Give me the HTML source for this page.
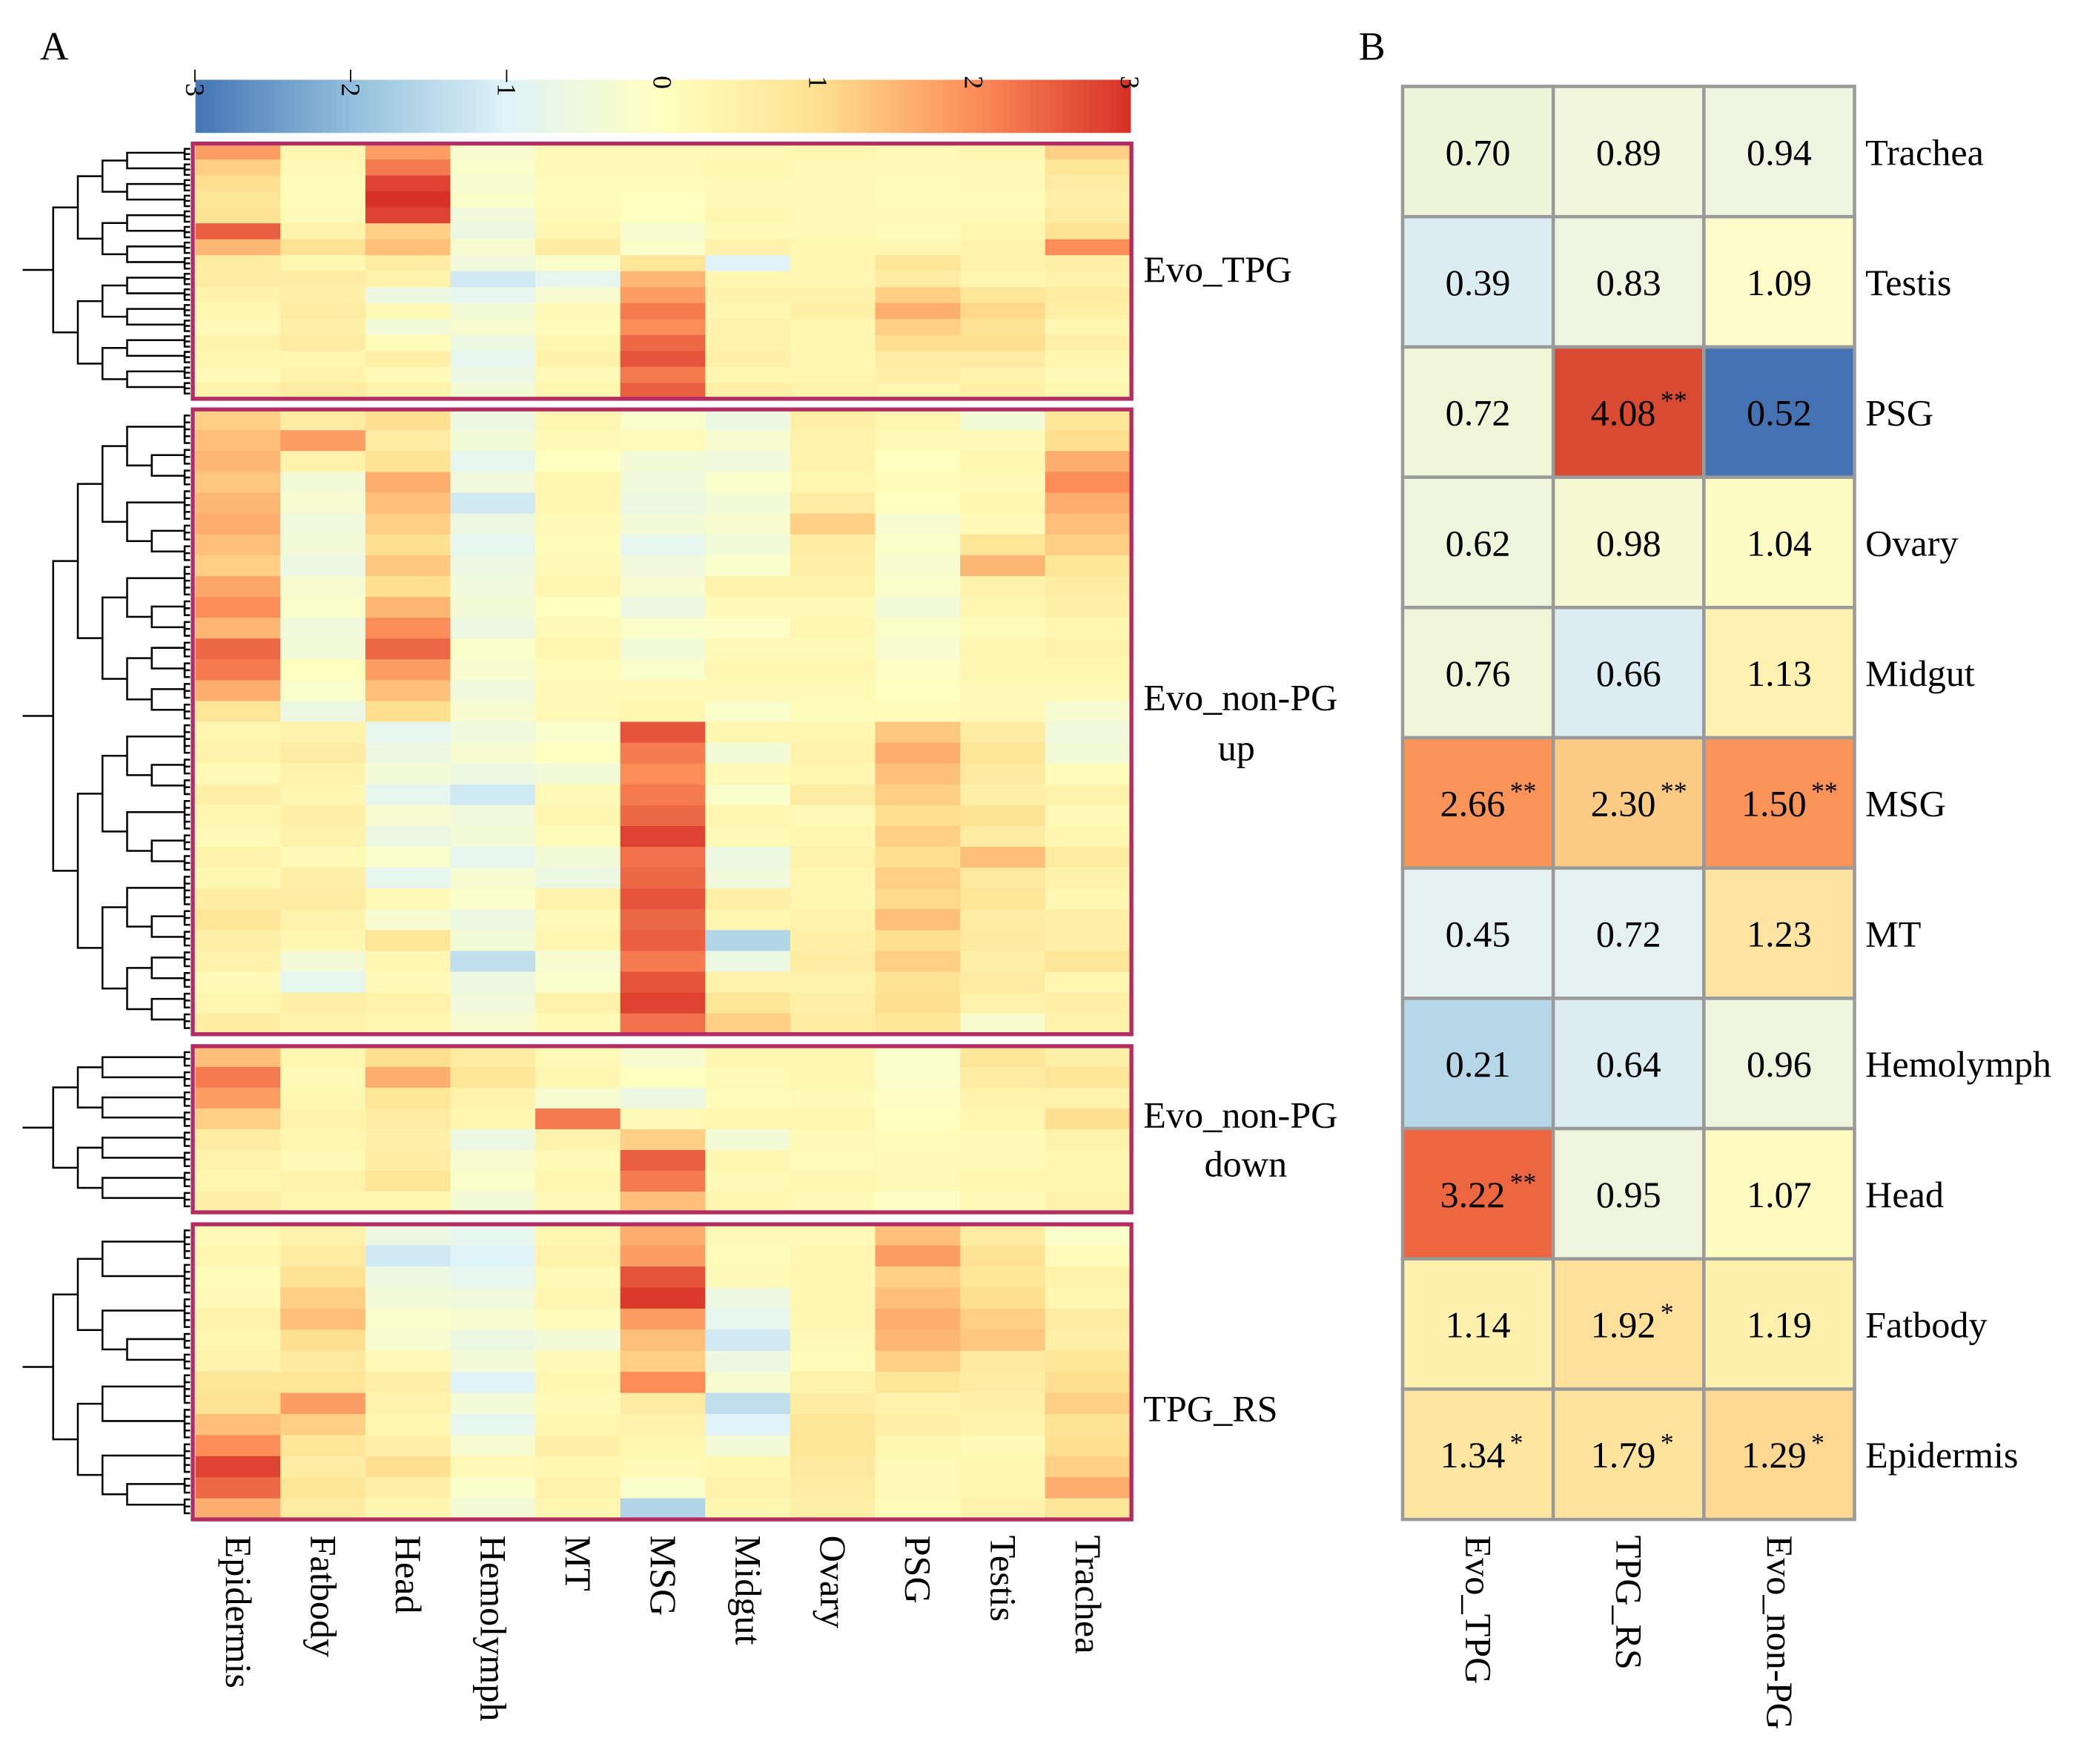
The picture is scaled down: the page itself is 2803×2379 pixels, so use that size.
<!DOCTYPE html>
<html><head><meta charset="utf-8"><style>
html,body{margin:0;padding:0;background:#fff;}
svg{display:block;}
text{font-family:"Liberation Serif",serif;fill:#000;}
</style></head><body>
<svg id="fig" width="2803" height="2379" viewBox="0 0 1563 1327" preserveAspectRatio="none" xmlns="http://www.w3.org/2000/svg">
<rect width="1563" height="1327" fill="#fff"/>
<text x="30" y="45" font-size="30">A</text>
<text x="1022" y="45" font-size="30">B</text>
<g id="heat"></g>
<g id="bpanel"></g>
</svg>
<script>
const tissues=["Epidermis","Fatbody","Head","Hemolymph","MT","MSG","Midgut","Ovary","PSG","Testis","Trachea"];
const cbTicks=[-3,-2,-1,0,1,2,3];
const blockNames=["Evo_TPG","Evo_non-PG up","Evo_non-PG down","TPG_RS"];
const block1=[
[1.8,0.3,1.8,-0.3,0.2,0.2,0.2,0.3,0.2,0.3,1.2],[1.2,0.2,2.2,-0.2,0.2,0.2,0.3,0.2,0.2,0.2,0.8],
[1.0,0.1,2.8,-0.3,0.1,0.1,0.2,0.2,0.1,0.2,0.6],[0.8,0.1,3.0,-0.2,0.1,0.0,0.2,0.2,0.1,0.1,0.5],
[0.9,0.2,2.8,-0.5,0.2,0.0,0.3,0.2,0.2,0.2,0.6],[2.5,0.4,1.2,-0.6,0.3,-0.3,0.2,0.2,0.1,0.3,0.9],
[1.5,0.9,1.4,-0.3,0.6,-0.2,0.4,0.3,0.3,0.4,2.0],[0.6,0.3,0.6,-0.5,-0.2,0.8,-1.0,0.3,0.8,0.4,0.5],
[0.6,0.6,0.4,-1.2,-0.8,1.5,0.3,0.3,0.6,0.3,0.4],[0.4,0.5,-0.6,-0.8,-0.3,1.8,0.4,0.4,1.2,0.8,0.6],
[0.3,0.6,0.2,-0.4,0.2,2.2,0.3,0.5,1.6,1.1,0.5],[0.2,0.5,-0.4,-0.3,0.1,2.0,0.4,0.3,1.2,0.9,0.3],
[0.4,0.6,0.1,-0.6,0.3,2.4,0.4,0.3,1.0,1.0,0.5],[0.3,0.3,0.5,-0.8,0.4,2.6,0.5,0.3,0.6,0.6,0.3],
[0.2,0.4,0.2,-0.6,0.2,2.2,0.3,0.3,0.5,0.4,0.2],[0.4,0.6,0.4,-0.4,0.3,2.5,0.5,0.4,0.3,0.5,0.3]];
const block2=[
[1.2,0.6,1.0,-0.6,0.3,-0.2,-0.6,0.5,0.3,-0.4,0.8],[1.4,1.8,0.6,-0.4,0.2,0.1,-0.3,0.4,0.2,0.2,1.0],
[1.5,0.4,0.9,-0.8,0.0,-0.4,-0.5,0.4,0.0,0.3,1.6],[1.3,-0.4,1.6,-0.5,0.3,-0.5,-0.2,0.3,0.1,0.2,2.0],
[1.5,-0.3,1.4,-1.2,0.3,-0.6,-0.4,0.6,0.0,0.3,1.6],[1.6,-0.5,1.2,-0.6,0.2,-0.4,-0.3,1.2,-0.3,0.2,1.4],
[1.4,-0.4,1.0,-0.8,0.1,-0.8,-0.4,0.6,-0.2,0.8,1.2],[1.2,-0.6,1.3,-0.6,0.2,-0.5,-0.2,0.5,-0.3,1.5,0.8],
[1.7,-0.3,1.0,-0.5,0.3,-0.3,0.4,0.4,-0.2,0.4,0.6],[2.0,-0.2,1.5,-0.4,0.0,-0.6,0.2,0.2,-0.4,0.3,0.5],
[1.5,-0.5,2.0,-0.6,0.2,-0.2,-0.1,0.3,-0.2,0.1,0.3],[2.4,-0.4,2.4,-0.2,0.3,-0.4,0.2,0.2,-0.3,0.3,0.4],
[2.2,0.0,1.8,-0.3,0.1,-0.2,0.3,0.3,-0.1,0.3,0.3],[1.6,-0.2,1.4,-0.5,0.2,0.2,0.2,0.2,0.0,0.2,0.2],
[0.8,-0.6,1.0,-0.3,0.2,0.3,-0.2,0.1,0.1,0.2,-0.3],[0.3,0.4,-0.8,-0.5,-0.2,2.6,0.3,0.3,1.3,0.6,-0.5],
[0.4,0.6,-0.6,-0.3,0.0,2.2,-0.4,0.4,1.6,0.8,-0.4],[0.2,0.4,-0.4,-0.6,-0.4,2.0,0.2,0.3,1.4,0.7,0.1],
[0.5,0.3,-0.8,-1.2,0.2,2.2,-0.2,0.6,1.2,0.5,0.4],[0.3,0.5,-0.3,-0.5,0.3,2.4,0.3,0.2,1.0,0.9,0.2],
[0.2,0.4,-0.6,-0.4,0.1,2.8,0.2,0.3,1.2,0.6,0.3],[0.4,0.2,-0.2,-0.8,-0.4,2.3,-0.6,0.4,1.0,1.4,0.6],
[0.3,0.5,-0.8,-0.3,-0.6,2.4,-0.5,0.3,1.2,0.7,0.4],[0.6,0.6,0.2,-0.2,0.4,2.6,0.5,0.3,1.1,0.8,0.3],
[0.8,0.4,-0.3,-0.6,0.2,2.4,0.3,0.4,1.4,0.6,0.5],[0.5,0.3,0.8,-0.4,0.3,2.5,-1.6,0.5,1.0,0.7,0.5],
[0.4,-0.4,0.3,-1.4,-0.3,2.2,-0.6,0.6,1.2,0.5,0.8],[0.2,-0.8,0.2,-0.6,-0.2,2.6,0.4,0.4,0.9,0.6,0.3],
[0.3,0.5,0.4,-0.5,0.4,2.8,0.8,0.5,1.0,0.4,0.5],[0.6,0.4,0.3,-0.3,0.2,2.3,1.2,0.6,0.8,-0.3,0.4]];
const block3=[
[1.4,0.3,1.0,0.6,0.2,-0.3,0.3,0.3,-0.2,0.8,0.5],[2.2,0.2,1.6,0.8,0.3,0.0,0.2,0.3,-0.2,0.6,0.8],
[1.8,0.3,0.8,0.4,-0.3,-0.6,0.1,0.2,-0.1,0.4,0.4],[1.2,0.4,0.6,0.3,2.2,0.2,0.3,0.3,0.0,0.3,1.0],
[0.6,0.3,0.5,-0.6,0.4,1.2,-0.4,0.2,0.1,0.2,0.4],[0.4,0.2,0.6,-0.3,0.2,2.5,0.3,0.1,0.2,0.2,0.3],
[0.3,0.4,0.8,-0.2,0.3,2.2,0.2,0.3,0.2,0.3,0.3],[0.5,0.3,0.3,-0.4,0.2,1.4,0.3,0.2,-0.1,0.2,0.4]];
const block4=[
[0.2,0.4,-0.6,-0.8,0.3,1.6,0.2,0.2,1.4,0.6,-0.2],[0.3,0.6,-1.2,-1.0,0.4,1.8,0.1,0.3,1.8,0.9,0.1],
[0.1,0.9,-0.6,-0.8,0.2,2.6,0.2,0.3,1.2,0.8,0.4],[0.2,1.2,-0.4,-0.5,0.3,2.9,-0.6,0.3,1.4,1.0,0.3],
[0.4,1.4,-0.2,-0.3,0.1,1.8,-0.8,0.3,1.6,1.2,0.6],[0.3,1.0,-0.3,-0.6,-0.4,1.4,-1.2,0.2,1.5,1.3,0.5],
[0.4,0.7,0.2,-0.4,0.2,1.2,-0.6,0.1,1.2,0.7,0.8],[0.8,0.8,0.5,-1.0,0.3,2.0,-0.3,0.4,0.8,0.6,1.0],
[0.9,1.8,0.4,-0.4,0.2,0.6,-1.4,0.6,0.4,0.5,1.2],[1.4,1.2,0.3,-0.8,0.3,0.4,-1.0,0.8,0.5,0.4,0.9],
[2.0,0.8,0.5,-0.3,0.5,0.3,-0.4,0.8,0.3,0.2,1.0],[2.8,0.6,1.0,0.2,0.3,0.2,0.3,0.7,0.2,0.3,1.2],
[2.4,0.8,0.5,-0.2,0.4,-0.2,0.4,0.6,0.2,0.3,1.6],[1.6,0.6,0.3,-0.4,0.3,-1.6,0.3,0.5,0.1,0.4,0.8]];
const bCols=["Evo_TPG","TPG_RS","Evo_non-PG"];
const bRows=["Trachea","Testis","PSG","Ovary","Midgut","MSG","MT","Hemolymph","Head","Fatbody","Epidermis"];
const bVals=[["0.70","0.89","0.94"],["0.39","0.83","1.09"],["0.72","4.08","0.52"],["0.62","0.98","1.04"],["0.76","0.66","1.13"],["2.66","2.30","1.50"],["0.45","0.72","1.23"],["0.21","0.64","0.96"],["3.22","0.95","1.07"],["1.14","1.92","1.19"],["1.34","1.79","1.29"]];
const bSig=[["","",""],["","",""],["","**",""],["","",""],["","",""],["**","**","**"],["","",""],["","",""],["**","",""],["","*",""],["*","*","*"]];
const bColors=[["#eef4d8","#f1f6dc","#eef4e0"],["#dcedf2","#eef4e0","#fdfbc8"],["#f0f5d8","#d94a32","#4472b3"],["#eef5dc","#f6f8d2","#fdfbc4"],["#f0f5d8","#dcedf2","#fff2b0"],["#f99358","#fbcb84","#f99358"],["#e4f1f0","#e4f1f0","#fee4a0"],["#b6d7e8","#dcedf2","#eef5dc"],["#ec6640","#eef5dc","#fffac0"],["#fff0ae","#fee09a","#fff0ae"],["#fee6a0","#fee39c","#fed890"]];

const NS="http://www.w3.org/2000/svg";
function mk(tag,attrs,parent){const e=document.createElementNS(NS,tag);for(const k in attrs)e.setAttribute(k,attrs[k]);parent.appendChild(e);return e;}
const stops=[[-3,[69,117,180]],[-2,[145,191,219]],[-1,[224,243,248]],[0,[255,255,191]],[1,[254,224,144]],[2,[252,141,89]],[3,[215,48,39]]];
function cmap(v){v=Math.max(-3,Math.min(3,v));for(let i=0;i<6;i++){const a=stops[i],b=stops[i+1];if(v<=b[0]){const t=(v-a[0]);return "rgb("+a[1].map((c,j)=>Math.round(c+(b[1][j]-c)*t)).join(",")+")";}}return "rgb(215,48,39)";}
const heat=document.getElementById("heat");
const X0=147,X1=850,colW=(X1-X0)/tissues.length;
const xCol=i=>X0+i*colW;
const cbX=v=>X0+(v+3)/6*(X1-X0);
const cb=mk("g",{},heat);


for(let i=0;i<140;i++){const v=-3+6*i/140;mk("rect",{x:cbX(v),y:60,width:(X1-X0)/140+0.6,height:40,fill:cmap(v+3/140)},cb);}
cbTicks.forEach(t=>{const tx=mk("text",{transform:`translate(${cbX(t)-7},62) rotate(90)`,"font-size":20,"text-anchor":"middle"},cb);tx.textContent=(t<0?"\u2212":"")+Math.abs(t);

});
const blocks=[[block1,108,300],[block2,308,778],[block3,787,912],[block4,921,1143]];
const labelPos=[[["Evo_TPG",860,212,"start"]],[["Evo_non-PG",860,534,"start"],["up",930,572,"middle"]],[["Evo_non-PG",860,848,"start"],["down",937,885,"middle"]],[["TPG_RS",860,1069,"start"]]];
function dendro(g,y0,y1,n,xr,xl){
  const rh=(y1-y0)/n;
  function rec(a,b,depth){
    if(b-a===1)return [y0+(a+0.5)*rh,xr];
    const m=Math.floor((a+b)/2);const L=rec(a,m,depth+1),R=rec(m,b,depth+1);
    const x=xl+(xr-xl)*Math.min(0.96,depth*0.14+(b-a<3?0.8:(b-a<6?0.55:0.04*depth)));
    mk("path",{d:`M${L[1]},${L[0]}H${x}V${R[0]}H${R[1]}`,fill:"none",stroke:"#000","stroke-width":1.4},g);
    return [(L[0]+R[0])/2,x];
  }
  return rec(0,n,0);
}
blocks.forEach((bk,bi)=>{
  const [data,y0,y1]=bk;const rh=(y1-y0)/data.length;
  const g=mk("g",{},heat);
  
  
  data.forEach((row,ri)=>row.forEach((v,ci)=>{const r=mk("rect",{x:xCol(ci),y:y0+ri*rh,width:colW+0.5,height:rh+0.5,fill:cmap(v)},g);
    
    }));
  const bd=mk("rect",{x:145,y:y0,width:706,height:y1-y0,fill:"none",stroke:"#b32d63","stroke-width":3},g);
  
  
  const dg=mk("g",{},g);
  
  
  const top=dendro(dg,y0+2,y1-2,data.length*3,143,40);
  mk("path",{d:`M${top[1]},${top[0]}H17`,stroke:"#000","stroke-width":1.4},dg);
  labelPos[bi].forEach(l=>{const t=mk("text",{x:l[1],y:l[2],"font-size":28,"text-anchor":l[3]},g);t.textContent=l[0];
    
    });
});
tissues.forEach((t,i)=>{const tx=mk("text",{transform:`translate(${xCol(i)+colW/2-9},1155) rotate(90)`,"font-size":28},heat);tx.textContent=t;
  
  });
const bp=document.getElementById("bpanel");
const BX0=1055,BY0=65,cw=113.3,ch=(1143-65)/bRows.length;
bRows.forEach((rn,ri)=>{
  bCols.forEach((cn,ci)=>{
    const x=BX0+ci*cw,y=BY0+ri*ch;
    const r=mk("rect",{x:x,y:y,width:cw,height:ch,fill:bColors[ri][ci],stroke:"#9a9a9a","stroke-width":2.5},bp);
    
    
    const t=mk("text",{x:x+cw/2-(bSig[ri][ci]?4:0),y:y+ch/2+10,"font-size":28,"text-anchor":"middle"},bp);
    t.textContent=bVals[ri][ci];
    
    
    if(bSig[ri][ci]){const s=mk("text",{x:x+cw/2+24,y:y+ch/2-2,"font-size":20},bp);s.textContent=bSig[ri][ci];
      
      }
  });
  const l=mk("text",{x:1403,y:BY0+ri*ch+ch/2+10,"font-size":28},bp);l.textContent=rn;
  
  
});
bCols.forEach((c,ci)=>{const t=mk("text",{transform:`translate(${BX0+ci*cw+cw/2-9},1155) rotate(90)`,"font-size":28},bp);t.textContent=c;
  
  });
</script>
</body></html>
